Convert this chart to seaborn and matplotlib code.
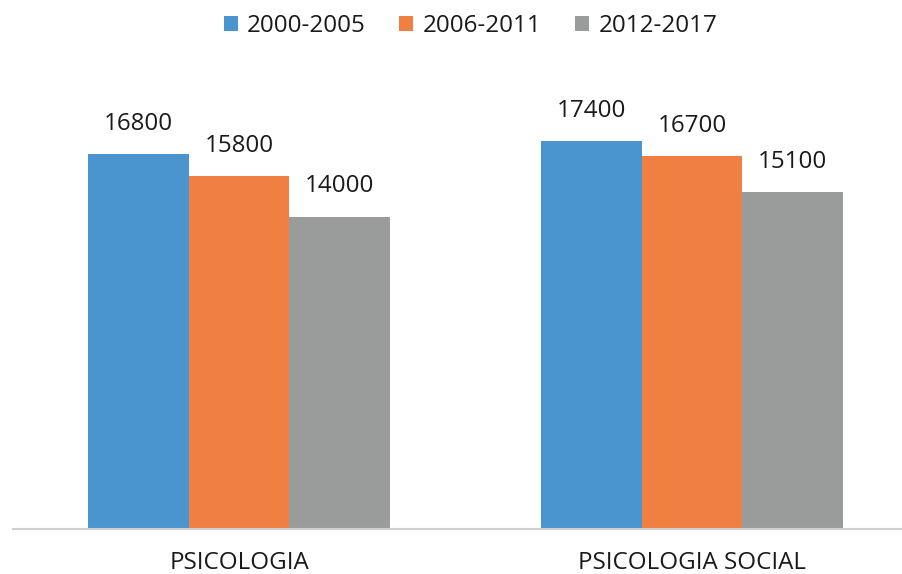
import matplotlib
matplotlib.use("Agg")
import matplotlib.pyplot as plt
import seaborn as sns
import pandas as pd

categories = ["PSICOLOGIA", "PSICOLOGIA SOCIAL"]
periods = ["2000-2005", "2006-2011", "2012-2017"]
values_2000_2005 = [16800, 17400]
values_2006_2011 = [15800, 16700]
values_2012_2017 = [14000, 15100]
colors = ["#4A94D0", "#F08042", "#9A9C9C"]

rows = []
for period, vals in zip(periods, [values_2000_2005, values_2006_2011, values_2012_2017]):
    for cat, v in zip(categories, vals):
        rows.append({"categoria": cat, "periodo": period, "valor": v})
df = pd.DataFrame(rows)

sns.set_theme(style="white")
plt.rcParams["font.family"] = ["Open Sans", "DejaVu Sans"]
FS = 17.4

fig = plt.figure(figsize=(9.03, 5.74), dpi=100)
ax = fig.add_axes([12.5 / 903, 1 - 529 / 574, 1 - 12.5 / 903, (529 - 82.6) / 574])

sns.barplot(data=df, x="categoria", y="valor", hue="periodo", order=categories,
            hue_order=periods, palette=colors, width=0.667, saturation=1,
            gap=0, ax=ax, legend=True, linewidth=0)

for cont in ax.containers:
    ax.bar_label(cont, padding=13, fontsize=FS, color="#1a1a1a")

ax.set_ylim(0, 20000)
ax.set_xlim(-0.5, (903 - 239) / 453)
ax.set_xlabel("")
ax.set_ylabel("")
ax.set_yticks([])
ax.tick_params(axis="x", length=0, pad=15.5, labelsize=FS, labelcolor="#1a1a1a")
for s in ["top", "left", "right"]:
    ax.spines[s].set_visible(False)
ax.spines["bottom"].set_color("#D0D0D0")
ax.spines["bottom"].set_linewidth(1.5)

handles, labels = ax.get_legend_handles_labels()
ax.get_legend().remove()
fig.legend(handles, labels, loc="center", bbox_to_anchor=(0.521, 1 - 26 / 574),
           ncol=3, frameon=False, fontsize=FS, handlelength=0.58, handleheight=0.58,
           handletextpad=0.38, columnspacing=1.4, labelcolor="#1a1a1a")

fig.savefig("out.png", dpi=100)
